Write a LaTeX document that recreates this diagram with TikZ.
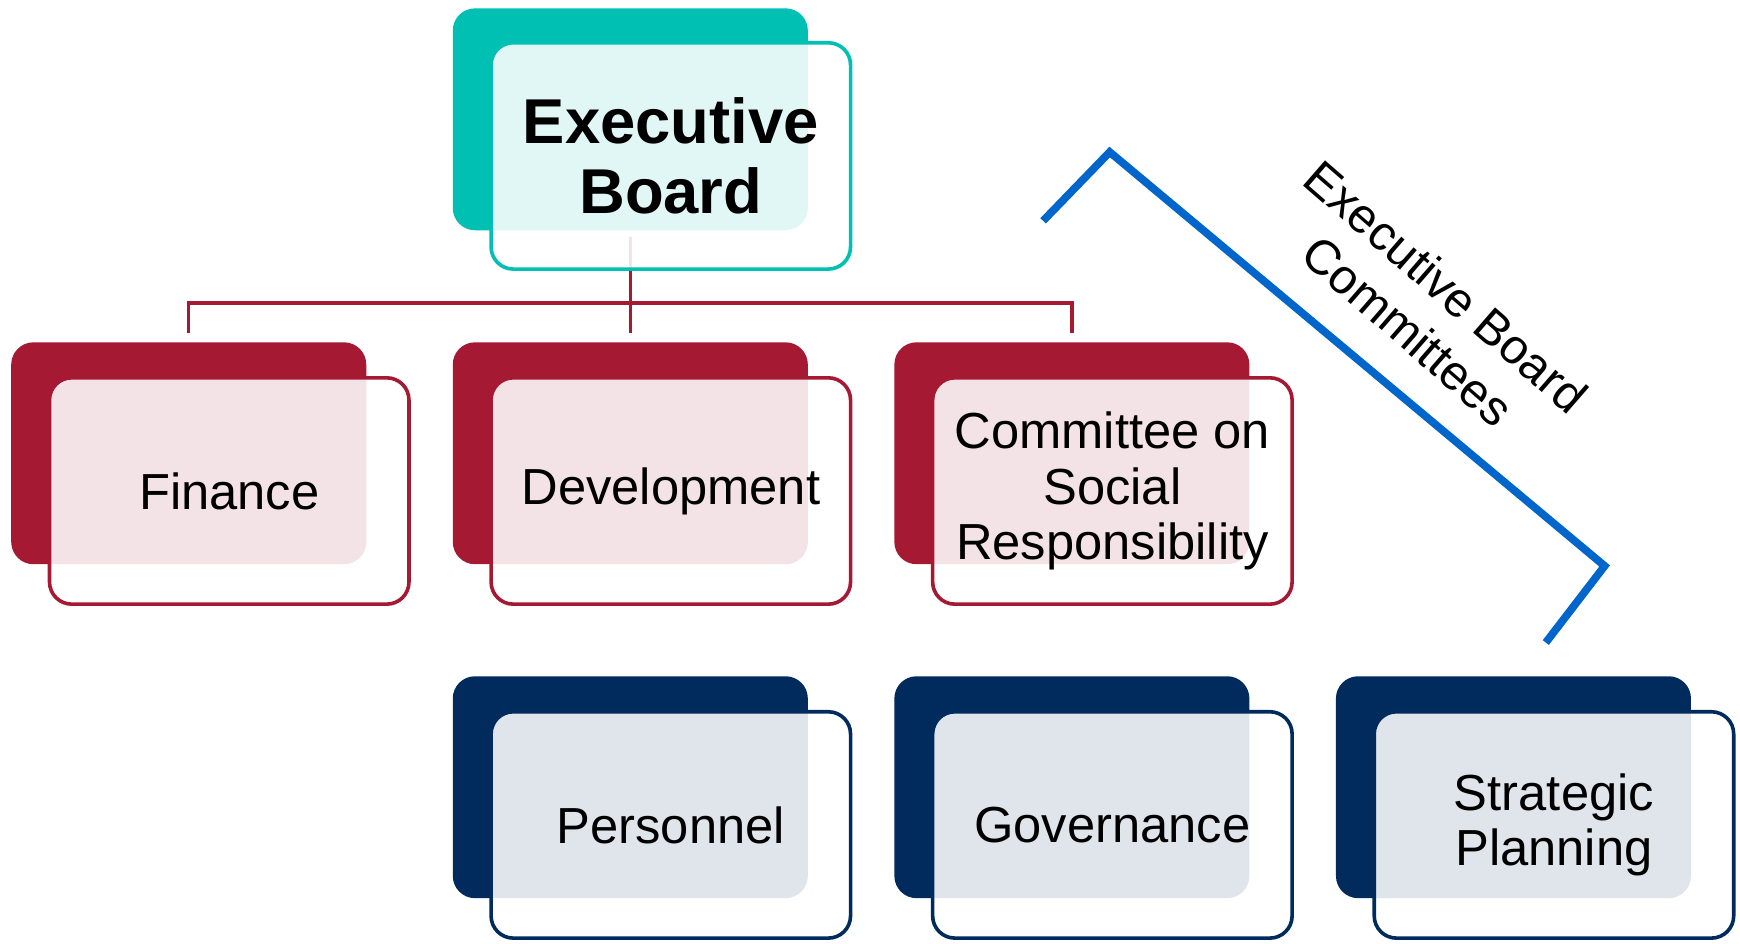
\documentclass[tikz,border=0pt]{standalone}
\usepackage{fontspec}
\setmainfont{Liberation Sans}
\usepackage{xcolor}
\usetikzlibrary{positioning}

\definecolor{ebteal}{RGB}{0,191,179}
\definecolor{crimson}{RGB}{166,25,50}
\definecolor{navyblue}{RGB}{0,43,92}
\definecolor{bracketblue}{RGB}{0,102,204}

\tikzset{
  backbox/.style={fill=#1, rounded corners=0.4cm, minimum width=6.4cm, minimum height=4cm, inner sep=0pt, outer sep=0pt},
  frontbox/.style={draw=#1, line width=0.065cm, fill=white, fill opacity=0.88, text opacity=1, rounded corners=0.4cm,
    minimum width=6.48cm, minimum height=4.08cm, inner sep=0pt, align=center, font=\fontsize{26}{28.5}\selectfont},
  conn/.style={crimson, line width=0.06cm},
  bracket/.style={bracketblue, line width=0.14cm}
}

\begin{document}
\begin{tikzpicture}[x=0.02cm, y=-0.02cm, node distance=2.02cm and 1.56cm]

\useasboundingbox (0,0) rectangle (1568,850);

% Back boxes
\node[backbox=ebteal] (ebBack) at (568,107.5) {};
\node[backbox=crimson, below=of ebBack] (devBack) {};
\node[backbox=crimson, left=of devBack] (finBack) {};
\node[backbox=crimson, right=of devBack] (csrBack) {};
\node[backbox=navyblue, below=of devBack] (perBack) {};
\node[backbox=navyblue, right=of perBack] (govBack) {};
\node[backbox=navyblue, right=of govBack] (spBack) {};

% Connectors from the board to the committees
\coordinate (bus) at (568,273);
\draw[conn, shorten <=0.12cm, shorten >=0.16cm] (ebBack.south) -- (devBack.north);
\draw[conn, shorten <=0.16cm, shorten >=0.16cm] (finBack.north) |- (bus) -| (csrBack.north);

% Front boxes with the labels
\node[frontbox=ebteal, font=\bfseries\fontsize{32.5}{36}\selectfont] (eb) at ([shift={(36.5,33)}]ebBack.center) {Executive\\Board};
\node[frontbox=crimson] (fin) at ([shift={(36.5,34)}]finBack.center) {Finance};
\node[frontbox=crimson] (dev) at ([shift={(36.5,34)}]devBack.center) {Development};
\node[frontbox=crimson] (csr) at ([shift={(36.5,34)}]csrBack.center) {Committee on\\Social\\Responsibility};
\node[frontbox=navyblue] (per) at ([shift={(36.5,34)}]perBack.center) {Personnel};
\node[frontbox=navyblue] (gov) at ([shift={(36.5,34)}]govBack.center) {Governance};
\node[frontbox=navyblue] (sp) at ([shift={(36.5,34)}]spBack.center) {Strategic\\Planning};

% Bracket round the board committees
\coordinate (b1) at (940,199);
\coordinate (b2) at (1000,137);
\coordinate (b3) at (1446,510);
\coordinate (b4) at (1393,579);
\draw[bracket] (b1) -- (b2) -- (b3) -- (b4);
\node[rotate=-41, align=center, font=\fontsize{25}{30}\selectfont] (brlabel) at (1286,278) {Executive Board\\Committees};

\end{tikzpicture}
\end{document}
